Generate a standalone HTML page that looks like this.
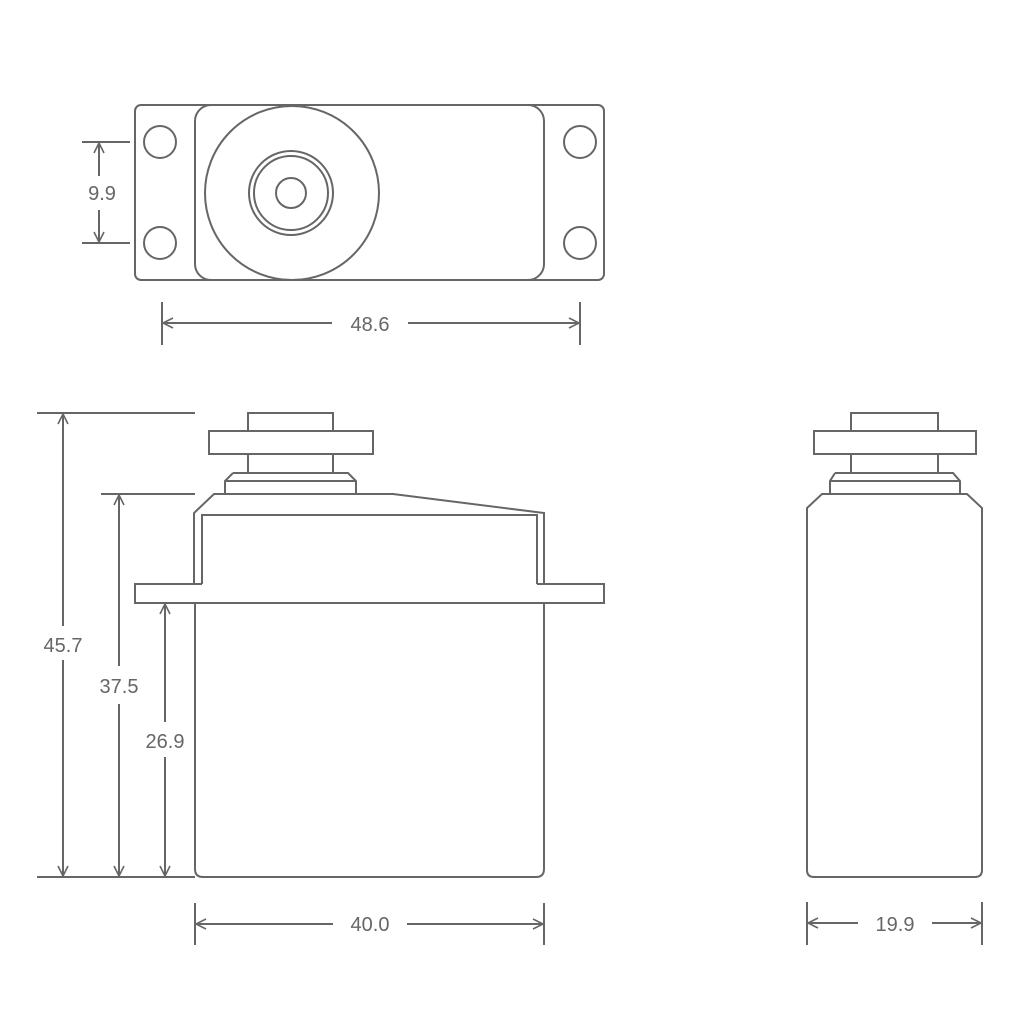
<!DOCTYPE html>
<html><head><meta charset="utf-8"><style>
html,body{margin:0;padding:0;background:#fff}
svg{display:block}
text{font-family:"Liberation Sans",sans-serif;font-size:20px;fill:#666}
</style></head><body>
<svg width="1024" height="1024" viewBox="0 0 1024 1024" xmlns="http://www.w3.org/2000/svg">
<defs>
<marker id="a" viewBox="0 0 12 12" refX="11" refY="6" markerWidth="12" markerHeight="12" markerUnits="userSpaceOnUse" orient="auto-start-reverse">
<path d="M1,1 L11,6 L1,11" fill="none" stroke="#666" stroke-width="1.6"/>
</marker>
</defs>
<g fill="none" stroke="#666" stroke-width="2">
<!-- top view -->
<rect x="135" y="105" width="469" height="175" rx="6"/>
<rect x="195" y="105" width="349" height="175" rx="16"/>
<circle cx="292" cy="193" r="87"/>
<circle cx="291" cy="193" r="42"/>
<circle cx="291" cy="193" r="37"/>
<circle cx="291" cy="193" r="15"/>
<circle cx="160" cy="142" r="16"/>
<circle cx="160" cy="243" r="16"/>
<circle cx="580" cy="142" r="16"/>
<circle cx="580" cy="243" r="16"/>
<!-- 9.9 -->
<line x1="82" y1="142" x2="130" y2="142"/>
<line x1="82" y1="243" x2="130" y2="243"/>
<line x1="99" y1="143" x2="99" y2="176" marker-start="url(#a)"/>
<line x1="99" y1="210" x2="99" y2="242" marker-end="url(#a)"/>
<!-- 48.6 -->
<line x1="162" y1="302" x2="162" y2="345"/>
<line x1="580" y1="302" x2="580" y2="345"/>
<line x1="163" y1="323" x2="332" y2="323" marker-start="url(#a)"/>
<line x1="408" y1="323" x2="579" y2="323" marker-end="url(#a)"/>
<!-- front view -->
<rect x="248" y="413" width="85" height="18"/>
<rect x="209" y="431" width="164" height="23"/>
<rect x="248" y="454" width="85" height="19"/>
<path d="M233,473 L348,473 L356,481 L356,494 M233,473 L225,481 L225,494 M225,481 L356,481"/>
<path d="M194,584 L194,513 L214,494 L393,494 L544,513 L544,584"/>
<path d="M202,584 L202,515 L537,515 L537,584"/>
<path d="M194,584 L135,584 L135,603 L604,603 L604,584 L537,584 M194,584 L202,584"/>
<path d="M195,603 L195,869 Q195,877 203,877 L536,877 Q544,877 544,869 L544,603"/>
<!-- left dims -->
<line x1="37" y1="413" x2="195" y2="413"/>
<line x1="101" y1="494" x2="195" y2="494"/>
<line x1="37" y1="877" x2="195" y2="877"/>
<line x1="63" y1="414" x2="63" y2="626" marker-start="url(#a)"/>
<line x1="63" y1="660" x2="63" y2="876" marker-end="url(#a)"/>
<line x1="119" y1="495" x2="119" y2="666" marker-start="url(#a)"/>
<line x1="119" y1="704" x2="119" y2="876" marker-end="url(#a)"/>
<line x1="165" y1="604" x2="165" y2="722" marker-start="url(#a)"/>
<line x1="165" y1="757" x2="165" y2="876" marker-end="url(#a)"/>
<!-- 40.0 -->
<line x1="195" y1="903" x2="195" y2="945"/>
<line x1="544" y1="903" x2="544" y2="945"/>
<line x1="196" y1="924" x2="333" y2="924" marker-start="url(#a)"/>
<line x1="407" y1="924" x2="543" y2="924" marker-end="url(#a)"/>
<!-- side view -->
<rect x="851" y="413" width="87" height="18"/>
<rect x="814" y="431" width="162" height="23"/>
<rect x="851" y="454" width="87" height="19"/>
<path d="M835,473 L953,473 L960,481 L960,494 M835,473 L830,481 L830,494 M830,481 L960,481"/>
<path d="M822,494 L967,494 L982,508 L982,870 Q982,877 975,877 L814,877 Q807,877 807,870 L807,508 Z"/>
<!-- 19.9 -->
<line x1="807" y1="902" x2="807" y2="945"/>
<line x1="982" y1="902" x2="982" y2="945"/>
<line x1="808" y1="923" x2="858" y2="923" marker-start="url(#a)"/>
<line x1="932" y1="923" x2="981" y2="923" marker-end="url(#a)"/>
</g>
<text x="102" y="200" text-anchor="middle">9.9</text>
<text x="370" y="331" text-anchor="middle">48.6</text>
<text x="63" y="652" text-anchor="middle">45.7</text>
<text x="119" y="693" text-anchor="middle">37.5</text>
<text x="165" y="748" text-anchor="middle">26.9</text>
<text x="370" y="931" text-anchor="middle">40.0</text>
<text x="895" y="931" text-anchor="middle">19.9</text>
</svg>
</body></html>
